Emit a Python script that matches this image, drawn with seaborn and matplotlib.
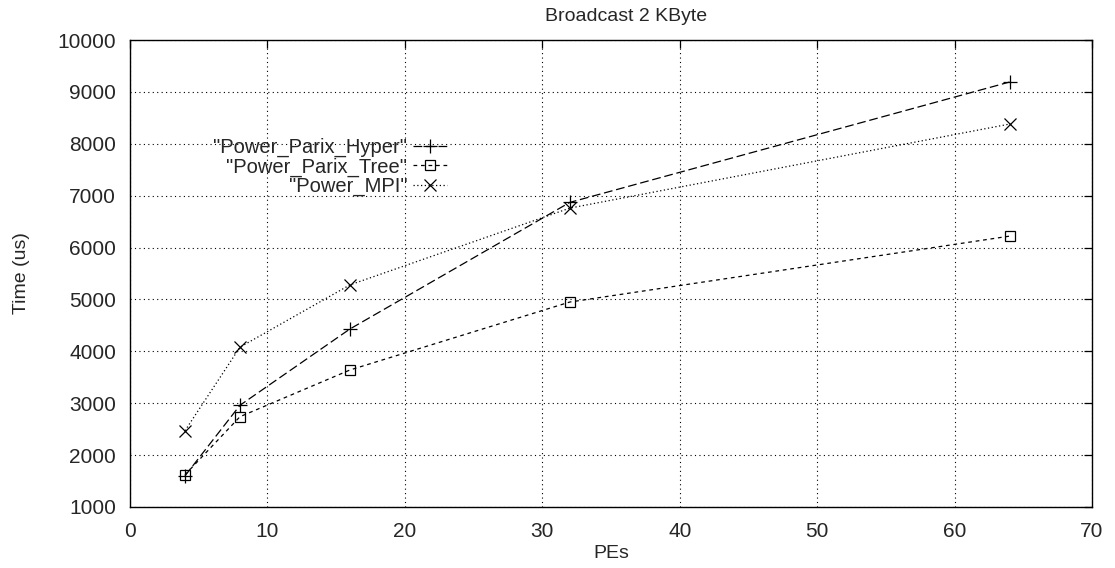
import matplotlib
matplotlib.use("Agg")
import matplotlib.pyplot as plt
import seaborn as sns
import pandas as pd

pes = [4, 8, 16, 32, 64]
hyper = [1600, 2960, 4430, 6870, 9190]
tree = [1620, 2740, 3640, 4950, 6220]
mpi = [2470, 4080, 5280, 6760, 8380]
labels = ['"Power_Parix_Hyper"', '"Power_Parix_Tree"', '"Power_MPI"']

sns.set_theme(style="white")
plt.rcParams['font.family'] = ['Liberation Sans', 'DejaVu Sans']

fig = plt.figure(figsize=(11.15, 5.68), dpi=100)
ax = fig.add_axes([130/1115, 1-507/568, (1092-130)/1115, (507-40)/568])

styles = [((7, 3), '+', 10), ((3, 3), 's', 7), ((1, 2), 'x', 9)]
for vals, lab, (dash, mk, ms) in zip([hyper, tree, mpi], labels, styles):
    df = pd.DataFrame({"PEs": pes, "Time": vals})
    sns.lineplot(data=df, x="PEs", y="Time", ax=ax, color="black", lw=0.9,
                 dashes=False, marker=mk, markersize=ms, markerfacecolor="none",
                 markeredgecolor="black", markeredgewidth=0.9, label=lab)
    ax.lines[-1].set_dashes(dash)

ax.set_xlim(0, 70)
ax.set_ylim(1000, 10000)
ax.set_xticks(range(0, 71, 10))
ax.set_yticks(range(1000, 10001, 1000))
ax.grid(True, color="black", linestyle=(0, (1, 3)), linewidth=0.8)
ax.tick_params(direction="in", length=6, top=True, right=True, labelsize=15, color="black", width=0.9)
ax.tick_params(axis="y", pad=10)
ax.tick_params(axis="x", pad=11)
for s in ax.spines.values():
    s.set_color("black")
    s.set_linewidth(1.0)
ax.set_xlabel("PEs", fontsize=14, labelpad=3)
ax.set_ylabel("Time (us)", fontsize=14, labelpad=20)
ax.set_title("Broadcast 2 KByte", fontsize=14, pad=14, x=(626-130)/962)

leg = ax.legend(loc="upper right", bbox_to_anchor=(0.33, 0.79), frameon=False,
                markerfirst=False, fontsize=14.5, handlelength=1.7, handletextpad=0.3,
                labelspacing=0.0, borderaxespad=0, borderpad=0)
for t in leg.get_texts():
    t.set_ha("right")
leg._legend_box.align = "right"

fig.savefig("out.png", dpi=100)
